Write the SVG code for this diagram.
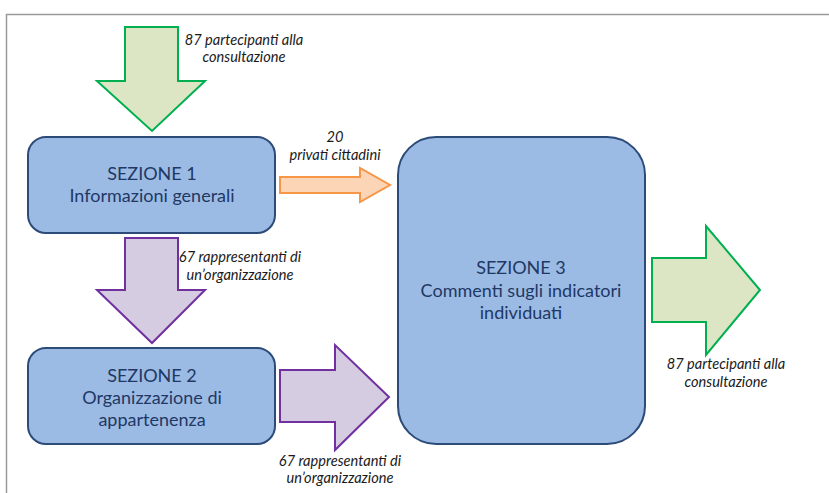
<svg xmlns="http://www.w3.org/2000/svg" width="829" height="493" viewBox="0 0 829 493">
<style>
.box{fill:#9BBBE4;stroke:#2D4B78;stroke-width:2}
.bt{font-family:Lato,"Open Sans",sans-serif;font-size:18px;fill:#1F3864;text-anchor:middle}
.lb{font-family:Lato,"Open Sans",sans-serif;font-size:14.6px;font-style:italic;fill:#1a1a1a;text-anchor:middle}
.g{fill:#DCE6C4;stroke:#00B050;stroke-width:2;stroke-linejoin:miter}
.p{fill:#D5CCE1;stroke:#7030A0;stroke-width:2}
.o{fill:#FBD5B5;stroke:#F79646;stroke-width:2}
</style>
<rect width="829" height="493" fill="#fff"/>
<path d="M6.5 493V14.5H829" fill="none" stroke="#9a9a9a" stroke-width="1.5"/>
<g id="connectors">
<g id="arrow-in"><polygon class="g" points="125,27 178,27 178,81 205,81 152,131 97,81 125,81"/>
<text class="lb" x="244" y="45">87 partecipanti alla</text><text class="lb" x="244" y="62">consultazione</text></g>
<g id="arrow-s1-s3"><polygon class="o" points="280,177 360,177 360,168 390,185 360,202 360,193 280,193"/>
<text class="lb" x="335" y="142">20</text><text class="lb" x="335" y="160">privati cittadini</text></g>
<g id="arrow-s1-s2"><polygon class="p" points="125,238 178,238 178,290 205,290 152,343 97,290 125,290"/>
<text class="lb" x="240" y="262">67 rappresentanti di</text><text class="lb" x="240" y="280">un’organizzazione</text></g>
<g id="arrow-s2-s3"><polygon class="p" points="280,370 335,370 335,345 389,397 335,450 335,422 280,422"/>
<text class="lb" x="340" y="466">67 rappresentanti di</text><text class="lb" x="340" y="483">un’organizzazione</text></g>
<g id="arrow-out"><polygon class="g" points="652,258 706,258 706,226 760,290 706,355 706,322 652,322"/>
<text class="lb" x="726" y="369">87 partecipanti alla</text><text class="lb" x="726" y="387">consultazione</text></g>
</g>
<g id="s1"><rect class="box" x="28" y="137" width="247" height="96" rx="18"/>
<text class="bt" x="152" y="180">SEZIONE 1</text><text class="bt" x="152" y="202">Informazioni generali</text></g>
<g id="s2"><rect class="box" x="28" y="348" width="247" height="96" rx="18"/>
<text class="bt" x="152" y="382">SEZIONE 2</text><text class="bt" x="152" y="404">Organizzazione di</text><text class="bt" x="152" y="426">appartenenza</text></g>
<g id="s3"><rect class="box" x="398" y="137" width="247" height="307" rx="38"/>
<text class="bt" x="521" y="274">SEZIONE 3</text><text class="bt" x="521" y="297">Commenti sugli indicatori</text><text class="bt" x="521" y="319">individuati</text></g>
</svg>
